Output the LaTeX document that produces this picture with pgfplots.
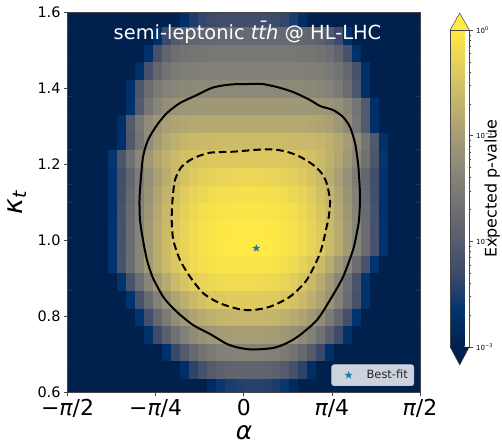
\documentclass[border=0pt]{standalone}
\usepackage{fontspec}
\setmainfont{DejaVu Sans}
\usepackage{pgfplots}
\pgfplotsset{compat=1.18}
\usetikzlibrary{calc}
\definecolor{cA}{RGB}{31,119,180}
\definecolor{cvtop}{RGB}{255,234,70}
\definecolor{cvbot}{RGB}{0,32,77}
\definecolor{framec}{RGB}{70,70,70}
\pgfdeclareplotmark{fstar}{%
 \pgfpathmoveto{\pgfpointpolar{90}{\pgfplotmarksize}}%
 \pgfpathlineto{\pgfpointpolar{126}{0.40\pgfplotmarksize}}%
 \pgfpathlineto{\pgfpointpolar{162}{\pgfplotmarksize}}%
 \pgfpathlineto{\pgfpointpolar{198}{0.40\pgfplotmarksize}}%
 \pgfpathlineto{\pgfpointpolar{234}{\pgfplotmarksize}}%
 \pgfpathlineto{\pgfpointpolar{270}{0.40\pgfplotmarksize}}%
 \pgfpathlineto{\pgfpointpolar{306}{\pgfplotmarksize}}%
 \pgfpathlineto{\pgfpointpolar{342}{0.40\pgfplotmarksize}}%
 \pgfpathlineto{\pgfpointpolar{18}{\pgfplotmarksize}}%
 \pgfpathlineto{\pgfpointpolar{54}{0.40\pgfplotmarksize}}%
 \pgfpathclose\pgfusepathqfill}
\pgfplotsset{colormap={cividis}{rgb255=(0,32,77) rgb255=(0,51,111) rgb255=(57,72,107) rgb255=(87,92,109) rgb255=(112,113,115) rgb255=(138,135,121) rgb255=(166,157,117) rgb255=(196,181,108) rgb255=(228,207,91) rgb255=(255,234,70)}}
\begin{document}
\begin{tikzpicture}
\begin{axis}[at={(0,0)}, anchor=south west, scale only axis, width=352.5bp, height=380bp,
  xmin=0, xmax=39, ymin=-0.3, ymax=21.3, hide axis,
  colormap name=cividis, point meta min=-3, point meta max=0]
\addplot[matrix plot*, mesh/cols=40, point meta=explicit] coordinates {
(0,0)[-3] (1,0)[-3] (2,0)[-3] (3,0)[-3] (4,0)[-3] (5,0)[-3] (6,0)[-3] (7,0)[-3] (8,0)[-3] (9,0)[-3] (10,0)[-3] (11,0)[-3] (12,0)[-3] (13,0)[-3] (14,0)[-3] (15,0)[-3] (16,0)[-2.81] (17,0)[-2.62] (18,0)[-2.51] (19,0)[-2.46] (20,0)[-2.45] (21,0)[-2.45] (22,0)[-2.46] (23,0)[-2.51] (24,0)[-2.62] (25,0)[-2.81] (26,0)[-3] (27,0)[-3] (28,0)[-3] (29,0)[-3] (30,0)[-3] (31,0)[-3] (32,0)[-3] (33,0)[-3] (34,0)[-3] (35,0)[-3] (36,0)[-3] (37,0)[-3] (38,0)[-3] (39,0)[-3]
(0,1)[-3] (1,1)[-3] (2,1)[-3] (3,1)[-3] (4,1)[-3] (5,1)[-3] (6,1)[-3] (7,1)[-3] (8,1)[-3] (9,1)[-3] (10,1)[-3] (11,1)[-3] (12,1)[-3] (13,1)[-2.74] (14,1)[-2.41] (15,1)[-2.18] (16,1)[-2.02] (17,1)[-1.92] (18,1)[-1.87] (19,1)[-1.85] (20,1)[-1.85] (21,1)[-1.85] (22,1)[-1.87] (23,1)[-1.92] (24,1)[-2.02] (25,1)[-2.18] (26,1)[-2.41] (27,1)[-2.74] (28,1)[-3] (29,1)[-3] (30,1)[-3] (31,1)[-3] (32,1)[-3] (33,1)[-3] (34,1)[-3] (35,1)[-3] (36,1)[-3] (37,1)[-3] (38,1)[-3] (39,1)[-3]
(0,2)[-3] (1,2)[-3] (2,2)[-3] (3,2)[-3] (4,2)[-3] (5,2)[-3] (6,2)[-3] (7,2)[-3] (8,2)[-3] (9,2)[-3] (10,2)[-3] (11,2)[-2.72] (12,2)[-2.33] (13,2)[-2.02] (14,2)[-1.79] (15,2)[-1.63] (16,2)[-1.52] (17,2)[-1.45] (18,2)[-1.41] (19,2)[-1.40] (20,2)[-1.40] (21,2)[-1.40] (22,2)[-1.41] (23,2)[-1.45] (24,2)[-1.52] (25,2)[-1.63] (26,2)[-1.79] (27,2)[-2.02] (28,2)[-2.33] (29,2)[-2.72] (30,2)[-3] (31,2)[-3] (32,2)[-3] (33,2)[-3] (34,2)[-3] (35,2)[-3] (36,2)[-3] (37,2)[-3] (38,2)[-3] (39,2)[-3]
(0,3)[-3] (1,3)[-3] (2,3)[-3] (3,3)[-3] (4,3)[-3] (5,3)[-3] (6,3)[-3] (7,3)[-3] (8,3)[-3] (9,3)[-2.71] (10,3)[-2.28] (11,3)[-1.94] (12,3)[-1.66] (13,3)[-1.44] (14,3)[-1.28] (15,3)[-1.16] (16,3)[-1.08] (17,3)[-1.03] (18,3)[-1.01] (19,3)[-1.00] (20,3)[-1.00] (21,3)[-1.00] (22,3)[-1.01] (23,3)[-1.03] (24,3)[-1.08] (25,3)[-1.16] (26,3)[-1.28] (27,3)[-1.44] (28,3)[-1.66] (29,3)[-1.94] (30,3)[-2.28] (31,3)[-2.71] (32,3)[-3] (33,3)[-3] (34,3)[-3] (35,3)[-3] (36,3)[-3] (37,3)[-3] (38,3)[-3] (39,3)[-3]
(0,4)[-3] (1,4)[-3] (2,4)[-3] (3,4)[-3] (4,4)[-3] (5,4)[-3] (6,4)[-3] (7,4)[-3] (8,4)[-2.69] (9,4)[-2.22] (10,4)[-1.83] (11,4)[-1.51] (12,4)[-1.25] (13,4)[-1.06] (14,4)[-0.91] (15,4)[-0.80] (16,4)[-0.73] (17,4)[-0.68] (18,4)[-0.66] (19,4)[-0.65] (20,4)[-0.65] (21,4)[-0.65] (22,4)[-0.66] (23,4)[-0.68] (24,4)[-0.73] (25,4)[-0.80] (26,4)[-0.91] (27,4)[-1.06] (28,4)[-1.25] (29,4)[-1.51] (30,4)[-1.83] (31,4)[-2.22] (32,4)[-2.69] (33,4)[-3] (34,4)[-3] (35,4)[-3] (36,4)[-3] (37,4)[-3] (38,4)[-3] (39,4)[-3]
(0,5)[-3] (1,5)[-3] (2,5)[-3] (3,5)[-3] (4,5)[-3] (5,5)[-3] (6,5)[-3] (7,5)[-2.68] (8,5)[-2.18] (9,5)[-1.77] (10,5)[-1.42] (11,5)[-1.14] (12,5)[-0.91] (13,5)[-0.74] (14,5)[-0.61] (15,5)[-0.51] (16,5)[-0.45] (17,5)[-0.41] (18,5)[-0.39] (19,5)[-0.38] (20,5)[-0.38] (21,5)[-0.38] (22,5)[-0.39] (23,5)[-0.41] (24,5)[-0.45] (25,5)[-0.51] (26,5)[-0.61] (27,5)[-0.74] (28,5)[-0.91] (29,5)[-1.14] (30,5)[-1.42] (31,5)[-1.77] (32,5)[-2.18] (33,5)[-2.68] (34,5)[-3] (35,5)[-3] (36,5)[-3] (37,5)[-3] (38,5)[-3] (39,5)[-3]
(0,6)[-3] (1,6)[-3] (2,6)[-3] (3,6)[-3] (4,6)[-3] (5,6)[-3] (6,6)[-2.66] (7,6)[-2.15] (8,6)[-1.71] (9,6)[-1.35] (10,6)[-1.04] (11,6)[-0.80] (12,6)[-0.61] (13,6)[-0.46] (14,6)[-0.35] (15,6)[-0.27] (16,6)[-0.22] (17,6)[-0.20] (18,6)[-0.18] (19,6)[-0.18] (20,6)[-0.18] (21,6)[-0.18] (22,6)[-0.20] (23,6)[-0.22] (24,6)[-0.27] (25,6)[-0.35] (26,6)[-0.46] (27,6)[-0.61] (28,6)[-0.80] (29,6)[-1.04] (30,6)[-1.35] (31,6)[-1.71] (32,6)[-2.15] (33,6)[-2.66] (34,6)[-3] (35,6)[-3] (36,6)[-3] (37,6)[-3] (38,6)[-3] (39,6)[-3]
(0,7)[-3] (1,7)[-3] (2,7)[-3] (3,7)[-3] (4,7)[-3] (5,7)[-2.67] (6,7)[-2.17] (7,7)[-1.73] (8,7)[-1.36] (9,7)[-1.05] (10,7)[-0.79] (11,7)[-0.59] (12,7)[-0.42] (13,7)[-0.30] (14,7)[-0.20] (15,7)[-0.14] (16,7)[-0.10] (17,7)[-0.07] (18,7)[-0.06] (19,7)[-0.06] (20,7)[-0.06] (21,7)[-0.06] (22,7)[-0.07] (23,7)[-0.10] (24,7)[-0.14] (25,7)[-0.20] (26,7)[-0.30] (27,7)[-0.42] (28,7)[-0.59] (29,7)[-0.79] (30,7)[-1.05] (31,7)[-1.36] (32,7)[-1.73] (33,7)[-2.17] (34,7)[-2.67] (35,7)[-3] (36,7)[-3] (37,7)[-3] (38,7)[-3] (39,7)[-3]
(0,8)[-3] (1,8)[-3] (2,8)[-3] (3,8)[-3] (4,8)[-3] (5,8)[-2.67] (6,8)[-2.17] (7,8)[-1.74] (8,8)[-1.37] (9,8)[-1.05] (10,8)[-0.79] (11,8)[-0.58] (12,8)[-0.40] (13,8)[-0.27] (14,8)[-0.17] (15,8)[-0.10] (16,8)[-0.05] (17,8)[-0.02] (18,8)[-0.01] (19,8)[0] (20,8)[0] (21,8)[0] (22,8)[-0.01] (23,8)[-0.02] (24,8)[-0.05] (25,8)[-0.10] (26,8)[-0.17] (27,8)[-0.27] (28,8)[-0.40] (29,8)[-0.58] (30,8)[-0.79] (31,8)[-1.05] (32,8)[-1.37] (33,8)[-1.74] (34,8)[-2.17] (35,8)[-2.67] (36,8)[-3] (37,8)[-3] (38,8)[-3] (39,8)[-3]
(0,9)[-3] (1,9)[-3] (2,9)[-3] (3,9)[-3] (4,9)[-3] (5,9)[-2.67] (6,9)[-2.18] (7,9)[-1.74] (8,9)[-1.37] (9,9)[-1.06] (10,9)[-0.80] (11,9)[-0.59] (12,9)[-0.41] (13,9)[-0.28] (14,9)[-0.18] (15,9)[-0.11] (16,9)[-0.06] (17,9)[-0.03] (18,9)[-0.02] (19,9)[-0.01] (20,9)[-0.01] (21,9)[-0.01] (22,9)[-0.02] (23,9)[-0.03] (24,9)[-0.06] (25,9)[-0.11] (26,9)[-0.18] (27,9)[-0.28] (28,9)[-0.41] (29,9)[-0.59] (30,9)[-0.80] (31,9)[-1.06] (32,9)[-1.37] (33,9)[-1.74] (34,9)[-2.18] (35,9)[-2.67] (36,9)[-3] (37,9)[-3] (38,9)[-3] (39,9)[-3]
(0,10)[-3] (1,10)[-3] (2,10)[-3] (3,10)[-3] (4,10)[-3] (5,10)[-2.68] (6,10)[-2.19] (7,10)[-1.76] (8,10)[-1.40] (9,10)[-1.09] (10,10)[-0.83] (11,10)[-0.62] (12,10)[-0.45] (13,10)[-0.32] (14,10)[-0.22] (15,10)[-0.15] (16,10)[-0.10] (17,10)[-0.07] (18,10)[-0.06] (19,10)[-0.05] (20,10)[-0.05] (21,10)[-0.05] (22,10)[-0.06] (23,10)[-0.07] (24,10)[-0.10] (25,10)[-0.15] (26,10)[-0.22] (27,10)[-0.32] (28,10)[-0.45] (29,10)[-0.62] (30,10)[-0.83] (31,10)[-1.09] (32,10)[-1.40] (33,10)[-1.76] (34,10)[-2.19] (35,10)[-2.68] (36,10)[-3] (37,10)[-3] (38,10)[-3] (39,10)[-3]
(0,11)[-3] (1,11)[-3] (2,11)[-3] (3,11)[-3] (4,11)[-3] (5,11)[-2.69] (6,11)[-2.21] (7,11)[-1.79] (8,11)[-1.44] (9,11)[-1.14] (10,11)[-0.89] (11,11)[-0.68] (12,11)[-0.52] (13,11)[-0.39] (14,11)[-0.29] (15,11)[-0.23] (16,11)[-0.18] (17,11)[-0.15] (18,11)[-0.14] (19,11)[-0.13] (20,11)[-0.13] (21,11)[-0.13] (22,11)[-0.14] (23,11)[-0.15] (24,11)[-0.18] (25,11)[-0.23] (26,11)[-0.29] (27,11)[-0.39] (28,11)[-0.52] (29,11)[-0.68] (30,11)[-0.89] (31,11)[-1.14] (32,11)[-1.44] (33,11)[-1.79] (34,11)[-2.21] (35,11)[-2.69] (36,11)[-3] (37,11)[-3] (38,11)[-3] (39,11)[-3]
(0,12)[-3] (1,12)[-3] (2,12)[-3] (3,12)[-3] (4,12)[-3] (5,12)[-2.70] (6,12)[-2.24] (7,12)[-1.84] (8,12)[-1.50] (9,12)[-1.21] (10,12)[-0.97] (11,12)[-0.78] (12,12)[-0.62] (13,12)[-0.50] (14,12)[-0.41] (15,12)[-0.34] (16,12)[-0.30] (17,12)[-0.27] (18,12)[-0.26] (19,12)[-0.25] (20,12)[-0.25] (21,12)[-0.25] (22,12)[-0.26] (23,12)[-0.27] (24,12)[-0.30] (25,12)[-0.34] (26,12)[-0.41] (27,12)[-0.50] (28,12)[-0.62] (29,12)[-0.78] (30,12)[-0.97] (31,12)[-1.21] (32,12)[-1.50] (33,12)[-1.84] (34,12)[-2.24] (35,12)[-2.70] (36,12)[-3] (37,12)[-3] (38,12)[-3] (39,12)[-3]
(0,13)[-3] (1,13)[-3] (2,13)[-3] (3,13)[-3] (4,13)[-3] (5,13)[-2.64] (6,13)[-2.10] (7,13)[-1.67] (8,13)[-1.33] (9,13)[-1.06] (10,13)[-0.86] (11,13)[-0.71] (12,13)[-0.60] (13,13)[-0.53] (14,13)[-0.48] (15,13)[-0.45] (16,13)[-0.43] (17,13)[-0.42] (18,13)[-0.42] (19,13)[-0.42] (20,13)[-0.42] (21,13)[-0.42] (22,13)[-0.42] (23,13)[-0.42] (24,13)[-0.43] (25,13)[-0.45] (26,13)[-0.48] (27,13)[-0.53] (28,13)[-0.60] (29,13)[-0.71] (30,13)[-0.86] (31,13)[-1.06] (32,13)[-1.33] (33,13)[-1.67] (34,13)[-2.10] (35,13)[-2.64] (36,13)[-3] (37,13)[-3] (38,13)[-3] (39,13)[-3]
(0,14)[-3] (1,14)[-3] (2,14)[-3] (3,14)[-3] (4,14)[-3] (5,14)[-3] (6,14)[-2.72] (7,14)[-2.07] (8,14)[-1.60] (9,14)[-1.25] (10,14)[-1.01] (11,14)[-0.84] (12,14)[-0.73] (13,14)[-0.66] (14,14)[-0.62] (15,14)[-0.60] (16,14)[-0.59] (17,14)[-0.58] (18,14)[-0.58] (19,14)[-0.58] (20,14)[-0.58] (21,14)[-0.58] (22,14)[-0.58] (23,14)[-0.58] (24,14)[-0.58] (25,14)[-0.59] (26,14)[-0.60] (27,14)[-0.62] (28,14)[-0.66] (29,14)[-0.73] (30,14)[-0.84] (31,14)[-1.01] (32,14)[-1.25] (33,14)[-1.60] (34,14)[-2.07] (35,14)[-2.72] (36,14)[-3] (37,14)[-3] (38,14)[-3] (39,14)[-3]
(0,15)[-3] (1,15)[-3] (2,15)[-3] (3,15)[-3] (4,15)[-3] (5,15)[-3] (6,15)[-2.72] (7,15)[-2.04] (8,15)[-1.58] (9,15)[-1.27] (10,15)[-1.08] (11,15)[-0.96] (12,15)[-0.90] (13,15)[-0.86] (14,15)[-0.84] (15,15)[-0.83] (16,15)[-0.83] (17,15)[-0.83] (18,15)[-0.83] (19,15)[-0.83] (20,15)[-0.83] (21,15)[-0.83] (22,15)[-0.83] (23,15)[-0.83] (24,15)[-0.83] (25,15)[-0.83] (26,15)[-0.84] (27,15)[-0.86] (28,15)[-0.90] (29,15)[-0.96] (30,15)[-1.08] (31,15)[-1.27] (32,15)[-1.58] (33,15)[-2.04] (34,15)[-2.72] (35,15)[-3] (36,15)[-3] (37,15)[-3] (38,15)[-3] (39,15)[-3]
(0,16)[-3] (1,16)[-3] (2,16)[-3] (3,16)[-3] (4,16)[-3] (5,16)[-3] (6,16)[-3] (7,16)[-2.72] (8,16)[-2.04] (9,16)[-1.61] (10,16)[-1.36] (11,16)[-1.22] (12,16)[-1.15] (13,16)[-1.11] (14,16)[-1.09] (15,16)[-1.08] (16,16)[-1.08] (17,16)[-1.08] (18,16)[-1.08] (19,16)[-1.08] (20,16)[-1.08] (21,16)[-1.08] (22,16)[-1.08] (23,16)[-1.08] (24,16)[-1.08] (25,16)[-1.08] (26,16)[-1.08] (27,16)[-1.09] (28,16)[-1.11] (29,16)[-1.15] (30,16)[-1.22] (31,16)[-1.36] (32,16)[-1.61] (33,16)[-2.04] (34,16)[-2.72] (35,16)[-3] (36,16)[-3] (37,16)[-3] (38,16)[-3] (39,16)[-3]
(0,17)[-3] (1,17)[-3] (2,17)[-3] (3,17)[-3] (4,17)[-3] (5,17)[-3] (6,17)[-3] (7,17)[-2.72] (8,17)[-2.11] (9,17)[-1.74] (10,17)[-1.53] (11,17)[-1.41] (12,17)[-1.35] (13,17)[-1.32] (14,17)[-1.31] (15,17)[-1.30] (16,17)[-1.30] (17,17)[-1.30] (18,17)[-1.30] (19,17)[-1.30] (20,17)[-1.30] (21,17)[-1.30] (22,17)[-1.30] (23,17)[-1.30] (24,17)[-1.30] (25,17)[-1.30] (26,17)[-1.31] (27,17)[-1.32] (28,17)[-1.35] (29,17)[-1.41] (30,17)[-1.53] (31,17)[-1.74] (32,17)[-2.11] (33,17)[-2.72] (34,17)[-3] (35,17)[-3] (36,17)[-3] (37,17)[-3] (38,17)[-3] (39,17)[-3]
(0,18)[-3] (1,18)[-3] (2,18)[-3] (3,18)[-3] (4,18)[-3] (5,18)[-3] (6,18)[-3] (7,18)[-3] (8,18)[-2.72] (9,18)[-2.16] (10,18)[-1.82] (11,18)[-1.64] (12,18)[-1.54] (13,18)[-1.49] (14,18)[-1.46] (15,18)[-1.45] (16,18)[-1.45] (17,18)[-1.45] (18,18)[-1.45] (19,18)[-1.45] (20,18)[-1.45] (21,18)[-1.45] (22,18)[-1.45] (23,18)[-1.45] (24,18)[-1.45] (25,18)[-1.45] (26,18)[-1.45] (27,18)[-1.46] (28,18)[-1.49] (29,18)[-1.54] (30,18)[-1.64] (31,18)[-1.82] (32,18)[-2.16] (33,18)[-2.72] (34,18)[-3] (35,18)[-3] (36,18)[-3] (37,18)[-3] (38,18)[-3] (39,18)[-3]
(0,19)[-3] (1,19)[-3] (2,19)[-3] (3,19)[-3] (4,19)[-3] (5,19)[-3] (6,19)[-3] (7,19)[-3] (8,19)[-3] (9,19)[-2.72] (10,19)[-2.18] (11,19)[-1.88] (12,19)[-1.72] (13,19)[-1.64] (14,19)[-1.60] (15,19)[-1.59] (16,19)[-1.58] (17,19)[-1.58] (18,19)[-1.58] (19,19)[-1.58] (20,19)[-1.58] (21,19)[-1.58] (22,19)[-1.58] (23,19)[-1.58] (24,19)[-1.58] (25,19)[-1.58] (26,19)[-1.59] (27,19)[-1.60] (28,19)[-1.64] (29,19)[-1.72] (30,19)[-1.88] (31,19)[-2.18] (32,19)[-2.72] (33,19)[-3] (34,19)[-3] (35,19)[-3] (36,19)[-3] (37,19)[-3] (38,19)[-3] (39,19)[-3]
(0,20)[-3] (1,20)[-3] (2,20)[-3] (3,20)[-3] (4,20)[-3] (5,20)[-3] (6,20)[-3] (7,20)[-3] (8,20)[-3] (9,20)[-3] (10,20)[-2.72] (11,20)[-2.30] (12,20)[-2.06] (13,20)[-1.92] (14,20)[-1.85] (15,20)[-1.82] (16,20)[-1.81] (17,20)[-1.80] (18,20)[-1.80] (19,20)[-1.80] (20,20)[-1.80] (21,20)[-1.80] (22,20)[-1.80] (23,20)[-1.80] (24,20)[-1.80] (25,20)[-1.81] (26,20)[-1.82] (27,20)[-1.85] (28,20)[-1.92] (29,20)[-2.06] (30,20)[-2.30] (31,20)[-2.72] (32,20)[-3] (33,20)[-3] (34,20)[-3] (35,20)[-3] (36,20)[-3] (37,20)[-3] (38,20)[-3] (39,20)[-3]
(0,21)[-3] (1,21)[-3] (2,21)[-3] (3,21)[-3] (4,21)[-3] (5,21)[-3] (6,21)[-3] (7,21)[-3] (8,21)[-3] (9,21)[-3] (10,21)[-3] (11,21)[-3] (12,21)[-3] (13,21)[-2.75] (14,21)[-2.51] (15,21)[-2.37] (16,21)[-2.29] (17,21)[-2.26] (18,21)[-2.25] (19,21)[-2.25] (20,21)[-2.25] (21,21)[-2.25] (22,21)[-2.26] (23,21)[-2.29] (24,21)[-2.37] (25,21)[-2.51] (26,21)[-2.75] (27,21)[-3] (28,21)[-3] (29,21)[-3] (30,21)[-3] (31,21)[-3] (32,21)[-3] (33,21)[-3] (34,21)[-3] (35,21)[-3] (36,21)[-3] (37,21)[-3] (38,21)[-3] (39,21)[-3]
};
\end{axis}
\begin{axis}[name=main, at={(0,0)}, anchor=south west, scale only axis, width=352.5bp, height=380bp,
  xmin=-1.5708, xmax=1.5708, ymin=0.6, ymax=1.6,
  xtick={-1.5708,-0.7854,0,0.7854,1.5708},
  xticklabels={−{\itshape π}/2,−{\itshape π}/4,0,{\itshape π}/4,{\itshape π}/2},
  ytick={0.6,0.8,1.0,1.2,1.4,1.6},
  yticklabels={0.6,0.8,1.0,1.2,1.4,1.6},
  tick pos=left, tick align=outside, major tick length=3.5bp,
  tick style={framec, line width=0.7bp},
  axis line style={framec, line width=0.7bp},
  xticklabel style={font=\fontsize{22}{26}\selectfont},
  yticklabel style={font=\fontsize{14.5}{17}\selectfont},
  xlabel={{\itshape α}},
  ylabel={{\itshape κ}\textsubscript{\itshape t}},
  xlabel style={font=\fontsize{25}{29}\selectfont, at={(axis description cs:0.5007,-0.106)}, anchor=center},
  ylabel style={font=\fontsize{27}{31}\selectfont, at={(axis description cs:-0.143,0.5)}, anchor=center},
  colormap name=cividis, point meta min=-3, point meta max=0,
  colorbar,
  colorbar style={
    at={($(parent axis.south west)+(374.2bp,362.3bp)$)}, anchor=north west,
    width=19bp, height=317bp,
    ytick={-3,-2,-1,0},
    yticklabels={10\textsuperscript{−3},10\textsuperscript{−2},10\textsuperscript{−1},10\textsuperscript{0}},
    minor ytick={-2.699,-2.523,-2.398,-2.301,-2.222,-2.155,-2.097,-2.046,-1.699,-1.523,-1.398,-1.301,-1.222,-1.155,-1.097,-1.046,-0.699,-0.523,-0.398,-0.301,-0.222,-0.155,-0.097,-0.046},
    ytick pos=right, yticklabel pos=right, tick align=outside,
    major tick length=3.5bp, minor tick length=2bp,
    tick style={framec, line width=0.5bp},
    axis line style={framec, line width=0.5bp},
    yticklabel style={font=\fontsize{7}{8}\selectfont},
    ylabel={Expected p-value},
    ylabel style={font=\fontsize{16}{19}\selectfont, at={(axis description cs:1.62,0.5)}, anchor=north},
    clip=false,
    after end axis/.code={
      \draw[framec, line width=0.5bp, fill=cvtop] (rel axis cs:0,1) -- (rel axis cs:0.5,1.0536) -- (rel axis cs:1,1);
      \draw[framec, line width=0.5bp, fill=cvbot] (rel axis cs:0,0) -- (rel axis cs:0.5,-0.0568) -- (rel axis cs:1,0);
    },
  },
  legend style={at={(0.983,0.0166)}, anchor=south east,
    fill={rgb,255:red,204;green,211;blue,220}, draw={rgb,255:red,185;green,192;blue,204},
    rounded corners=2.5bp, font=\fontsize{11.5}{13}\selectfont, text=black!85,
    inner xsep=4bp, inner ysep=3.5bp},
  legend cell align=left,
  legend image code/.code={\path[draw=none,fill=none] (0bp,-4bp) rectangle (29bp,4bp); \draw[#1] plot coordinates {(13bp,0bp)};},
]
\addplot[black, line width=2bp, smooth, tension=0.45, forget plot] coordinates {
(0.1716,1.4113) (0.2963,1.4034) (0.4389,1.3903) (0.5904,1.3692) (0.6796,1.3534) (0.7954,1.3429) (0.8846,1.3245) (0.9469,1.2982) (0.9915,1.2561) (1.0182,1.2034) (1.0316,1.1508) (1.0361,1.1061) (1.0271,1.0534) (1.0093,1.0218) (0.9737,0.9745) (0.8846,0.9034) (0.7687,0.8429) (0.6528,0.7903) (0.5013,0.7508) (0.3855,0.7297) (0.2607,0.7166) (0.0824,0.7126) (-0.0334,0.7166) (-0.1493,0.7271) (-0.3008,0.7534) (-0.4523,0.7771) (-0.5949,0.8113) (-0.7108,0.8482) (-0.8088,0.9008) (-0.8623,0.9482) (-0.8979,1.0008) (-0.9247,1.0534) (-0.9291,1.1061) (-0.9202,1.1508) (-0.8979,1.2192) (-0.8534,1.2639) (-0.7731,1.3034) (-0.6840,1.3350) (-0.5682,1.3613) (-0.4166,1.3824) (-0.2741,1.4021) (-0.0958,1.4105) (0.1716,1.4113)
};
\addplot[black, line width=2bp, dash pattern=on 7.5bp off 4bp, smooth, tension=0.45, forget plot] coordinates {
(0.0851,1.2376) (0.2491,1.2395) (0.3828,1.2332) (0.5013,1.2200) (0.6199,1.1982) (0.6947,1.1763) (0.7393,1.1500) (0.7687,1.1061) (0.7598,1.0666) (0.7393,1.0358) (0.6796,0.9658) (0.5610,0.8955) (0.4122,0.8516) (0.2340,0.8253) (0.0851,0.8166) (-0.0334,0.8184) (-0.2117,0.8342) (-0.3605,0.8605) (-0.4790,0.9042) (-0.5682,0.9482) (-0.6279,1.0008) (-0.6421,1.0534) (-0.6350,1.1061) (-0.6127,1.1587) (-0.5530,1.1937) (-0.4496,1.2158) (-0.3008,1.2305) (-0.0931,1.2332) (0.0851,1.2376)
};
\addplot[only marks, mark=fstar, mark size=4.2bp, color=cA] coordinates {(0.112,0.979)};
\addlegendentry{Best-fit}
\node[text=white, font=\fontsize{19.5}{23}\selectfont, anchor=center] at (rel axis cs:0.5106,0.947) {semi-leptonic {\itshape t\={t}h} @ HL-LHC};
\end{axis}
\pgfresetboundingbox
\path (main.south west) ++(-67.5bp,-53.7bp) rectangle ++(502bp,446bp);
\end{tikzpicture}
\end{document}
